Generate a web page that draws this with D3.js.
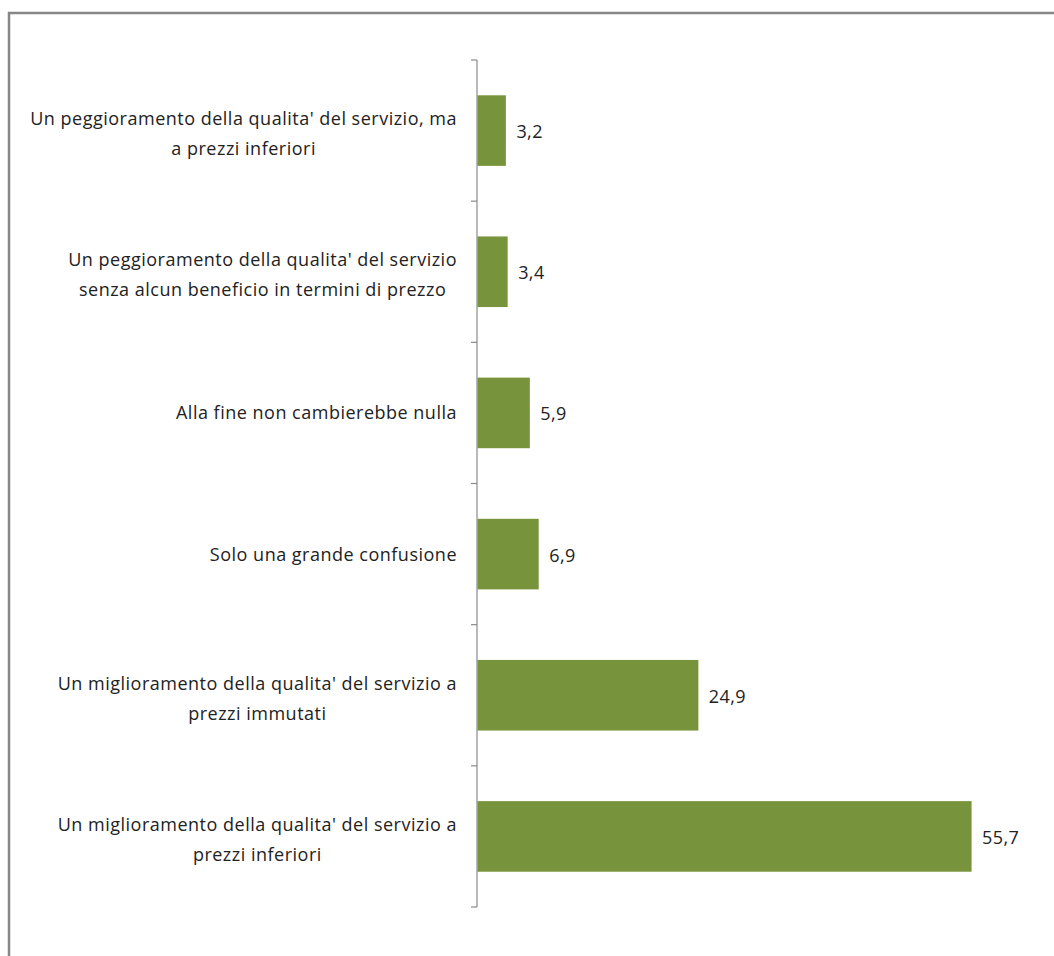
<!DOCTYPE html>
<html>
<head>
<meta charset="utf-8">
<script src="https://cdn.jsdelivr.net/npm/d3@7"></script>
<style>
  html, body { margin: 0; padding: 0; background: #fff; }
  svg { display: block; }
</style>
</head>
<body>
<div id="chart"></div>
<script>
// Survey answers, top to bottom
const categories = [
  ["Un peggioramento della qualita' del servizio, ma", "a prezzi inferiori"],
  ["Un peggioramento della qualita' del servizio", "senza alcun beneficio in termini di prezzo"],
  ["Alla fine non cambierebbe nulla"],
  ["Solo una grande confusione"],
  ["Un miglioramento della qualita' del servizio a", "prezzi immutati"],
  ["Un miglioramento della qualita' del servizio a", "prezzi inferiori"]
];
const values = [3.2, 3.4, 5.9, 6.9, 24.9, 55.7];
const valueLabels = ["3,2", "3,4", "5,9", "6,9", "24,9", "55,7"];

const W = 1054, H = 956;
const svg = d3.select("#chart").append("svg").attr("width", W).attr("height", H);

// chart frame (extends past right and bottom edges)
svg.append("rect")
  .attr("x", 9).attr("y", 13)
  .attr("width", W + 20).attr("height", H + 20)
  .attr("fill", "none").attr("stroke", "#878787").attr("stroke-width", 2.5);

const x0 = 477, plotTop = 60, plotBottom = 907;
const ids = d3.range(categories.length);

const y = d3.scaleBand().domain(ids).range([plotTop, plotBottom]).paddingInner(0.5).paddingOuter(0.25);
const x = d3.scaleLinear().domain([0, 60]).range([x0, x0 + 60 * 8.87]);

// vertical category axis with tick marks on band boundaries
const axisG = svg.append("g");
axisG.append("line")
  .attr("x1", x0).attr("x2", x0).attr("y1", plotTop).attr("y2", plotBottom)
  .attr("stroke", "#8a8a8a").attr("stroke-width", 1.2);
const step = (plotBottom - plotTop) / categories.length;
d3.range(categories.length + 1).forEach(i => {
  axisG.append("line")
    .attr("x1", x0 - 6).attr("x2", x0).attr("y1", plotTop + i * step).attr("y2", plotTop + i * step)
    .attr("stroke", "#8a8a8a").attr("stroke-width", 1.2);
});

// bars
svg.append("g").selectAll("rect").data(ids).join("rect")
  .attr("x", x0 + 0.5)
  .attr("y", i => y(i))
  .attr("width", i => x(values[i]) - x0)
  .attr("height", y.bandwidth())
  .attr("fill", "#77933C");

// value labels
svg.append("g").selectAll("text").data(ids).join("text")
  .attr("x", i => x(values[i]) + 11)
  .attr("y", i => y(i) + y.bandwidth() / 2 + 1)
  .attr("dy", "0.36em")
  .attr("font-family", "'Open Sans', sans-serif")
  .attr("font-size", 18)
  .attr("letter-spacing", 0.4)
  .attr("fill", "#222")
  .text(i => valueLabels[i]);

// category labels: each block is right-aligned to the axis, its lines centred within the block
const labelRight = 457;
const lineH = 30;
const labels = svg.append("g").selectAll("text").data(ids).join("text")
  .attr("font-family", "'Open Sans', sans-serif")
  .attr("font-size", 18)
  .attr("letter-spacing", 0.5)
  .attr("fill", "#222")
  .attr("text-anchor", "middle");
labels.each(function(i) {
  const lines = categories[i];
  const cy = y(i) + y.bandwidth() / 2 + (lines.length > 1 ? 3 : 0);
  const t = d3.select(this);
  const spans = lines.map((ln, k) => t.append("tspan")
      .attr("y", cy + (k - (lines.length - 1) / 2) * lineH)
      .attr("dy", "0.36em")
      .text(ln));
  const maxW = d3.max(spans, s => s.node().getComputedTextLength());
  spans.forEach(s => s.attr("x", labelRight - maxW / 2));
});
</script>
</body>
</html>
